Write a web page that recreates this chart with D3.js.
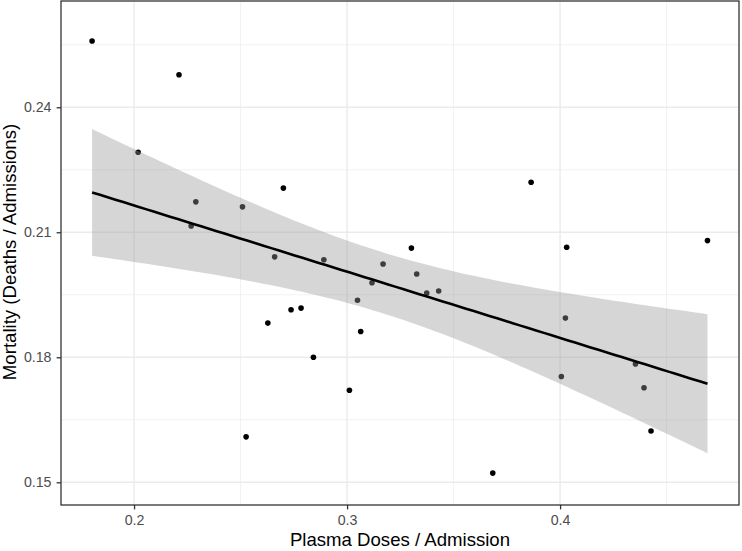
<!DOCTYPE html>
<html>
<head>
<meta charset="utf-8">
<script src="https://cdn.jsdelivr.net/npm/d3@7"></script>
<style>
  html, body { margin: 0; padding: 0; background: #fff; }
  svg { display: block; font-family: "Liberation Sans", Arial, sans-serif; }
</style>
</head>
<body>
<svg id="chart" width="742" height="551"></svg>
<script>
// Data
const plasmaDoses = [0.1803, 0.2211, 0.2019, 0.2290, 0.2268, 0.2509, 0.2701, 0.2660,
  0.2891, 0.3169, 0.3117, 0.3049, 0.3302, 0.3327, 0.3374, 0.3430, 0.2628, 0.2737,
  0.2784, 0.3064, 0.2842, 0.3011, 0.2526, 0.3684, 0.3864, 0.4031, 0.4692, 0.4025,
  0.4006, 0.4354, 0.4394, 0.4427];
const mortality = [0.2559, 0.2478, 0.2292, 0.2173, 0.2115, 0.2161, 0.2206, 0.2041,
  0.2034, 0.2024, 0.1979, 0.1937, 0.2062, 0.2000, 0.1954, 0.1959, 0.1882, 0.1914,
  0.1918, 0.1862, 0.1800, 0.1721, 0.1609, 0.1522, 0.2220, 0.2064, 0.2080, 0.1894,
  0.1754, 0.1784, 0.1727, 0.1623];
const xTicks = [0.2, 0.3, 0.4];
const xTickLabels = ["0.2", "0.3", "0.4"];
const xMinor = [0.25, 0.35, 0.45];
const yTicks = [0.15, 0.18, 0.21, 0.24];
const yTickLabels = ["0.15", "0.18", "0.21", "0.24"];
const yMinor = [0.165, 0.195, 0.225, 0.255];
const xTitle = "Plasma Doses / Admission";
const yTitle = "Mortality (Deaths / Admissions)";

const svg = d3.select("#chart");
const panel = { left: 61, right: 739, top: 1, bottom: 505 };

const x = d3.scaleLinear().domain([0.1657, 0.4840]).range([panel.left, panel.right]);
const y = d3.scaleLinear().domain([0.14455, 0.2655]).range([panel.bottom, panel.top]);

// background
svg.append("rect").attr("x", panel.left).attr("y", panel.top)
  .attr("width", panel.right - panel.left).attr("height", panel.bottom - panel.top)
  .attr("fill", "#fff");

const grid = svg.append("g");
grid.selectAll(".xmin").data(xMinor).join("line")
  .attr("x1", d => x(d)).attr("x2", d => x(d))
  .attr("y1", panel.top).attr("y2", panel.bottom)
  .attr("stroke", "#EBEBEB").attr("stroke-width", 0.7);
grid.selectAll(".ymin").data(yMinor).join("line")
  .attr("y1", d => y(d)).attr("y2", d => y(d))
  .attr("x1", panel.left).attr("x2", panel.right)
  .attr("stroke", "#EBEBEB").attr("stroke-width", 0.7);
grid.selectAll(".xmaj").data(xTicks).join("line")
  .attr("x1", d => x(d)).attr("x2", d => x(d))
  .attr("y1", panel.top).attr("y2", panel.bottom)
  .attr("stroke", "#EBEBEB").attr("stroke-width", 1.4);
grid.selectAll(".ymaj").data(yTicks).join("line")
  .attr("y1", d => y(d)).attr("y2", d => y(d))
  .attr("x1", panel.left).attr("x2", panel.right)
  .attr("stroke", "#EBEBEB").attr("stroke-width", 1.4);

// points
const pts = plasmaDoses.map((v, i) => ({ x: v, y: mortality[i] }));
svg.append("g").selectAll("circle").data(pts).join("circle")
  .attr("cx", d => x(d.x)).attr("cy", d => y(d.y)).attr("r", 2.8)
  .attr("fill", "#000");

// linear regression with 95% confidence band
const n = pts.length;
const mx = d3.mean(pts, d => d.x), my = d3.mean(pts, d => d.y);
const sxx = d3.sum(pts, d => (d.x - mx) ** 2);
const sxy = d3.sum(pts, d => (d.x - mx) * (d.y - my));
const b1 = sxy / sxx, b0 = my - b1 * mx;
const sse = d3.sum(pts, d => (d.y - (b0 + b1 * d.x)) ** 2);
const s = Math.sqrt(sse / (n - 2));
const tq = 2.0423; // t(0.975, df = 30)
const [xmin, xmax] = d3.extent(plasmaDoses);
const grid80 = d3.range(80).map(i => xmin + (xmax - xmin) * i / 79);
const fit = grid80.map(xv => {
  const yh = b0 + b1 * xv;
  const se = s * Math.sqrt(1 / n + (xv - mx) ** 2 / sxx);
  return { x: xv, y: yh, lo: yh - tq * se, hi: yh + tq * se };
});

svg.append("path").datum(fit)
  .attr("d", d3.area().x(d => x(d.x)).y0(d => y(d.lo)).y1(d => y(d.hi)))
  .attr("fill", "#999999").attr("fill-opacity", 0.4);
svg.append("path").datum(fit)
  .attr("d", d3.line().x(d => x(d.x)).y(d => y(d.y)))
  .attr("fill", "none").attr("stroke", "#000").attr("stroke-width", 2.6);

// panel border
svg.append("rect").attr("x", panel.left).attr("y", panel.top)
  .attr("width", panel.right - panel.left).attr("height", panel.bottom - panel.top)
  .attr("fill", "none").attr("stroke", "#333333").attr("stroke-width", 1.3);

// axes
const xAxis = d3.axisBottom(x).tickValues(xTicks)
  .tickFormat((d, i) => xTickLabels[i]).tickSize(4.4).tickPadding(3);
const gx = svg.append("g").attr("transform", `translate(0,${panel.bottom})`).call(xAxis);
gx.select(".domain").remove();
gx.selectAll(".tick line").attr("stroke", "#333333").attr("stroke-width", 1.3);
gx.selectAll(".tick text").attr("fill", "#4D4D4D").attr("font-size", 14.2)
  .attr("font-family", "Liberation Sans, Arial, sans-serif").attr("dy", null).attr("y", 20);

const yAxis = d3.axisLeft(y).tickValues(yTicks)
  .tickFormat((d, i) => yTickLabels[i]).tickSize(4.4).tickPadding(3);
const gy = svg.append("g").attr("transform", `translate(${panel.left},0)`).call(yAxis);
gy.select(".domain").remove();
gy.selectAll(".tick line").attr("stroke", "#333333").attr("stroke-width", 1.3);
gy.selectAll(".tick text").attr("fill", "#4D4D4D").attr("font-size", 14.2)
  .attr("font-family", "Liberation Sans, Arial, sans-serif").attr("x", -9.5);

// titles
svg.append("text").attr("x", (panel.left + panel.right) / 2).attr("y", 546)
  .attr("text-anchor", "middle").attr("font-size", 18.6).attr("fill", "#000").text(xTitle);
svg.append("text")
  .attr("transform", `translate(15.5,${(panel.top + panel.bottom) / 2 - 1}) rotate(-90)`)
  .attr("text-anchor", "middle").attr("font-size", 18.6).attr("fill", "#000").text(yTitle);
</script>
</body>
</html>
